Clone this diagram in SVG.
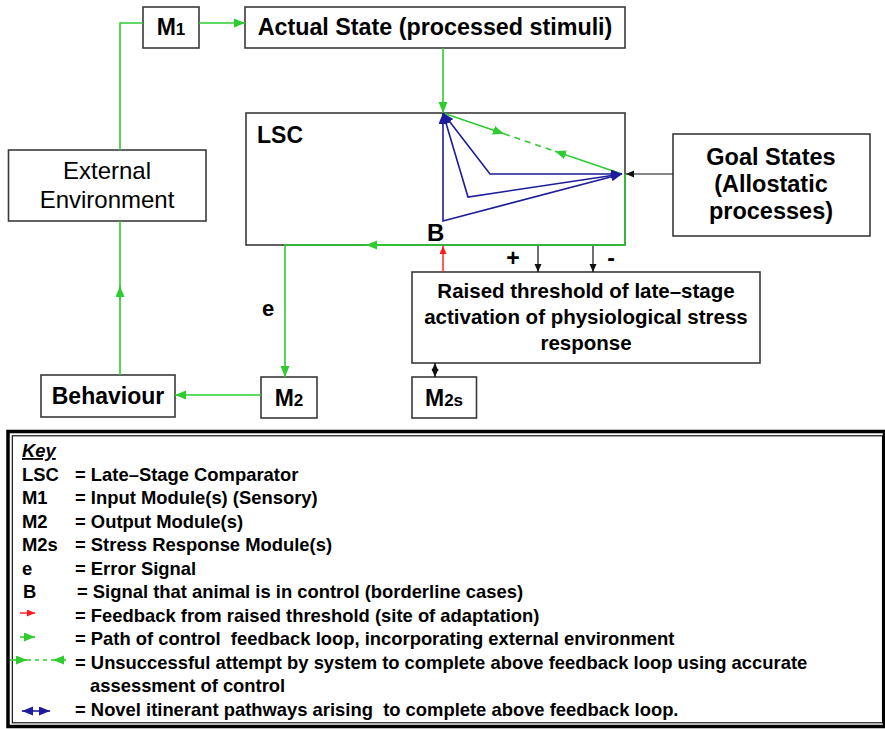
<svg xmlns="http://www.w3.org/2000/svg" width="885" height="729" viewBox="0 0 885 729">
  <style>
    .box { fill: #ffffff; stroke: #3a3a3a; stroke-width: 1.6; }
    .t { font-family: "Liberation Sans", Arial, sans-serif; font-weight: bold; fill: #000; }
    .n { font-family: "Liberation Sans", Arial, sans-serif; font-weight: normal; fill: #000; }
    .g { fill: none; stroke: #2ecc2e; stroke-width: 1.6; }
    .bl { fill: none; stroke: #1c1c9c; stroke-width: 1.6; }
    .k { fill: none; stroke: #111; stroke-width: 1.2; }
    .r { fill: none; stroke: #ff1a1a; stroke-width: 1.4; }
    .key { font-family: "Liberation Sans", Arial, sans-serif; font-weight: bold; font-size: 18.4px; fill: #000; white-space: pre; }
  </style>
  <defs>
    <marker id="ag" markerUnits="userSpaceOnUse" markerWidth="12" markerHeight="10" refX="11" refY="4.5" orient="auto-start-reverse">
      <path d="M0,0 L11,4.5 L0,9 z" fill="#2ecc2e"/>
    </marker>
    <marker id="ab" markerUnits="userSpaceOnUse" markerWidth="12" markerHeight="10" refX="11" refY="4.5" orient="auto-start-reverse">
      <path d="M0,0 L11,4.5 L0,9 z" fill="#1c1c9c"/>
    </marker>
    <marker id="ak" markerUnits="userSpaceOnUse" markerWidth="9" markerHeight="8" refX="8" refY="3.5" orient="auto-start-reverse">
      <path d="M0,0 L8,3.5 L0,7 z" fill="#111"/>
    </marker>
    <marker id="ar" markerUnits="userSpaceOnUse" markerWidth="9" markerHeight="8" refX="8" refY="3.5" orient="auto-start-reverse">
      <path d="M0,0 L8,3.5 L0,7 z" fill="#ff1a1a"/>
    </marker>
  </defs>

  <rect width="885" height="729" fill="#ffffff"/>

  <!-- nodes -->
  <g id="m1">
    <rect class="box" x="143" y="7" width="56" height="41"/>
    <text class="t" x="171" y="35" text-anchor="middle" font-size="23">M<tspan font-size="17">1</tspan></text>
  </g>
  <g id="actual-state">
    <rect class="box" x="245" y="7" width="380" height="41"/>
    <text class="t" x="435" y="35" text-anchor="middle" font-size="23.3">Actual State (processed stimuli)</text>
  </g>
  <g id="external-environment">
    <rect class="box" x="8.5" y="150" width="197.5" height="71"/>
    <text class="n" x="107" y="179" text-anchor="middle" font-size="24">External</text>
    <text class="n" x="107" y="208" text-anchor="middle" font-size="24">Environment</text>
  </g>
  <g id="lsc">
    <rect class="box" x="246" y="113" width="379" height="132"/>
    <text class="t" x="257" y="143" font-size="23">LSC</text>
    <text class="t" x="427" y="241" font-size="24">B</text>
  </g>
  <g id="goal-states">
    <rect class="box" x="673" y="134" width="197" height="102"/>
    <text class="t" x="771" y="165" text-anchor="middle" font-size="23.5">Goal States</text>
    <text class="t" x="771" y="192" text-anchor="middle" font-size="23.5">(Allostatic</text>
    <text class="t" x="771" y="219" text-anchor="middle" font-size="23.5">processes)</text>
  </g>
  <g id="raised-threshold">
    <rect class="box" x="412" y="272" width="348" height="91"/>
    <text class="t" x="586" y="298" text-anchor="middle" font-size="20.5">Raised threshold of late–stage</text>
    <text class="t" x="586" y="324" text-anchor="middle" font-size="20.5">activation of physiological stress</text>
    <text class="t" x="586" y="350" text-anchor="middle" font-size="20.5">response</text>
  </g>
  <g id="behaviour">
    <rect class="box" x="41" y="375" width="134" height="42"/>
    <text class="t" x="108" y="404" text-anchor="middle" font-size="23">Behaviour</text>
  </g>
  <g id="m2">
    <rect class="box" x="261" y="377" width="56" height="41"/>
    <text class="t" x="289" y="406" text-anchor="middle" font-size="23">M<tspan font-size="17">2</tspan></text>
  </g>
  <g id="m2s">
    <rect class="box" x="412" y="377" width="64.5" height="41"/>
    <text class="t" x="444" y="406" text-anchor="middle" font-size="23">M<tspan font-size="17">2s</tspan></text>
  </g>

  <!-- connectors -->
  <g id="connectors">
    <!-- control loop (green) -->
    <path class="g" d="M120,150 L120,23 L143,23"/>
    <path class="g" d="M199,23 L245,23" marker-end="url(#ag)"/>
    <path class="g" d="M443,48 L443,113" marker-end="url(#ag)"/>
    <path class="g" d="M625,174 L625,245 L285,245 L285,377" marker-end="url(#ag)"/>
    <path class="g" d="M400,245 L366,245" marker-end="url(#ag)"/>
    <path class="g" d="M261,395 L175,395" marker-end="url(#ag)"/>
    <path class="g" d="M120,375 L120,221"/>
    <path class="g" d="M120,300 L120,286" marker-end="url(#ag)"/>
    <!-- unsuccessful attempt (green, dashed middle) -->
    <path class="g" d="M443,113 L504,133.8" marker-end="url(#ag)"/>
    <path class="g" d="M504,133.8 L555,151.2" stroke-dasharray="6,5"/>
    <path class="g" d="M622,174 L555,151.2" marker-end="url(#ag)"/>
    <!-- novel itinerant pathways (blue) -->
    <path class="bl" d="M622,174 L490,174 L443,113" marker-start="url(#ab)" marker-end="url(#ab)"/>
    <path class="bl" d="M622,174 L468,197 L443,113" marker-start="url(#ab)" marker-end="url(#ab)"/>
    <path class="bl" d="M622,174 L443,221 L443,113" marker-start="url(#ab)" marker-end="url(#ab)"/>
    <!-- goal states into comparator -->
    <path class="k" d="M673,174 L626,174" marker-end="url(#ak)"/>
    <!-- threshold modulation -->
    <path class="k" d="M538,246 L538,272" marker-end="url(#ak)"/>
    <path class="k" d="M593,246 L593,272" marker-end="url(#ak)"/>
    <path class="r" d="M443,272 L443,246" marker-end="url(#ar)"/>
    <path class="k" d="M435,363 L435,377" marker-start="url(#ak)" marker-end="url(#ak)"/>
    <text class="t" x="513" y="266" text-anchor="middle" font-size="23">+</text>
    <text class="t" x="611" y="266" text-anchor="middle" font-size="23">-</text>
    <text class="t" x="268" y="316" text-anchor="middle" font-size="22">e</text>
  </g>

  <!-- key panel -->
  <g id="key">
    <rect x="8" y="431.5" width="876.5" height="295" fill="none" stroke="#000" stroke-width="3.5"/>
    <rect x="12.3" y="435.8" width="870.2" height="287" fill="none" stroke="#000" stroke-width="1.1"/>
    <text class="key" x="22" y="457" font-style="italic" text-decoration="underline">Key</text>
    <text class="key" x="22" y="480.5">LSC</text>
    <text class="key" x="75" y="480.5">= Late–Stage Comparator</text>
    <text class="key" x="22" y="504">M1</text>
    <text class="key" x="75" y="504">= Input Module(s) (Sensory)</text>
    <text class="key" x="22" y="527.5">M2</text>
    <text class="key" x="75" y="527.5">= Output Module(s)</text>
    <text class="key" x="22" y="551">M2s</text>
    <text class="key" x="75" y="551">= Stress Response Module(s)</text>
    <text class="key" x="22" y="574.5">e</text>
    <text class="key" x="75" y="574.5">= Error Signal</text>
    <text class="key" x="23" y="598">B</text>
    <text class="key" x="77" y="598">= Signal that animal is in control (borderline cases)</text>
    <path class="r" d="M20,613 L35,613" marker-end="url(#ar)"/>
    <text class="key" x="75" y="621.5">= Feedback from raised threshold (site of adaptation)</text>
    <path class="g" d="M20,637 L35,637" marker-end="url(#ag)"/>
    <text class="key" x="75" y="645">= Path of control  feedback loop, incorporating external environment</text>
    <path class="g" d="M10,660 L27,660" marker-end="url(#ag)"/>
    <path class="g" d="M27,660 L53,660" stroke-dasharray="4,4"/>
    <path class="g" d="M66,660 L53,660" marker-end="url(#ag)"/>
    <text class="key" x="75" y="668.5">= Unsuccessful attempt by system to complete above feedback loop using accurate</text>
    <text class="key" x="90" y="692">assessment of control</text>
    <path class="bl" d="M22,711 L50,711" marker-start="url(#ab)" marker-end="url(#ab)"/>
    <text class="key" x="75" y="715.5">= Novel itinerant pathways arising  to complete above feedback loop.</text>
  </g>
</svg>
